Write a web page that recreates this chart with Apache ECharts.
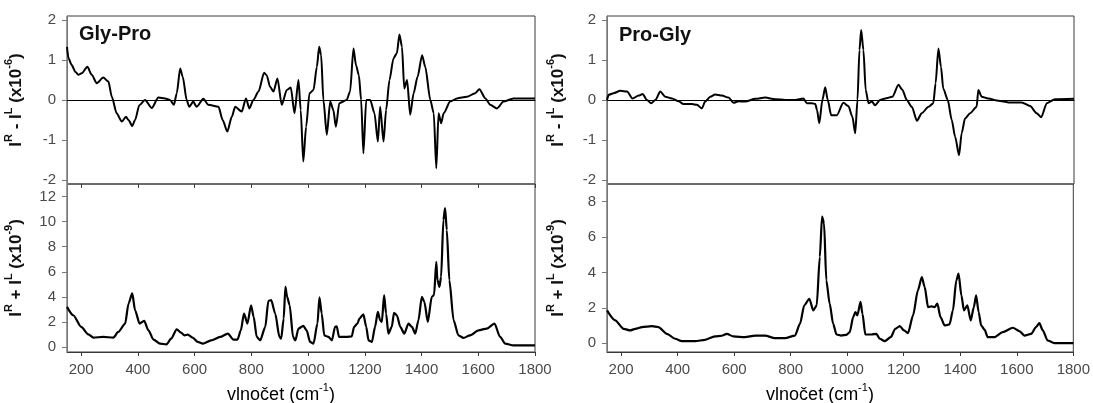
<!DOCTYPE html>
<html>
<head>
<meta charset="utf-8">
<script src="https://cdn.jsdelivr.net/npm/echarts@6/dist/echarts.min.js"></script>
<style>
  html, body { margin: 0; padding: 0; background: #fff; }
  #chart { width: 1093px; height: 403px; }
</style>
</head>
<body>
<div id="chart"></div>
<script>
// osa x (vlnočet, cm-1)
const xTicks = [200, 400, 600, 800, 1000, 1200, 1400, 1600, 1800]
const roaTicks = [-2, -1, 0, 1, 2]
const glyProRamanTicks = [0, 2, 4, 6, 8, 10, 12]
const proGlyRamanTicks = [0, 2, 4, 6, 8]

// Gly-Pro: I(R) - I(L)
const glyProRoa = [
  [150, 1.33], [155, 1.05], [166, 0.88], [180, 0.7], [190, 0.63], [202, 0.67], [222, 0.83], [237, 0.63],
  [255, 0.42], [278, 0.56], [296, 0.46], [308, 0.08], [325, -0.33], [343, -0.54], [358, -0.42], [367, -0.5],
  [380, -0.65], [390, -0.5], [405, -0.13], [425, 0], [449, -0.2], [472, 0.06], [496, 0.04], [513, 0],
  [527, -0.12], [537, 0.17], [549, 0.79], [558, 0.58], [572, 0], [581, -0.17], [595, -0.04], [607, -0.17],
  [631, 0.03], [648, -0.12], [684, -0.17], [699, -0.5], [715, -0.79], [731, -0.42], [743, -0.17], [766, -0.29],
  [781, 0.04], [793, -0.21], [807, 0], [825, 0.21], [845, 0.68], [854, 0.62], [866, 0.33], [878, 0.21],
  [892, 0.54], [907, -0.12], [925, 0.25], [939, 0.31], [952, -0.33], [966, 0.5], [974, -0.25], [983, -1.54],
  [993, -0.67], [1005, 0.17], [1019, 0.25], [1031, 0.83], [1039, 1.33], [1046, 1.12], [1054, 0], [1066, -0.87],
  [1078, -0.04], [1089, -0.25], [1098, -0.67], [1110, -0.08], [1136, 0], [1148, 0.21], [1160, 1.29], [1169, 0.87],
  [1179, 0.62], [1187, 0], [1195, -1.33], [1205, 0], [1219, 0], [1234, -0.33], [1246, -1.04], [1254, -0.17],
  [1266, -1.04], [1275, -0.25], [1287, 0.5], [1301, 1.04], [1313, 1.17], [1322, 1.64], [1331, 1.33], [1339, 0.29],
  [1349, 0.5], [1360, -0.37], [1372, 0.17], [1386, 0.58], [1402, 1.12], [1413, 0.83], [1431, 0], [1443, -0.33],
  [1452, -1.71], [1460, -0.33], [1469, -0.58], [1478, -0.33], [1501, -0.04], [1525, 0.04], [1560, 0.08], [1589, 0.17],
  [1604, 0.27], [1625, 0.04], [1642, -0.12], [1666, -0.21], [1689, -0.04], [1724, 0.04], [1800, 0.04]
]

// Gly-Pro: I(R) + I(L)
const glyProRaman = [
  [150, 3.2], [172, 2.53], [200, 1.6], [225, 1.01], [243, 0.75], [278, 0.8], [313, 0.75], [331, 1.2],
  [355, 1.87], [367, 3.47], [380, 4.27], [390, 2.93], [406, 1.87], [422, 2.08], [437, 1.33], [455, 0.59],
  [478, 0.27], [501, 0.21], [517, 0.67], [537, 1.41], [552, 1.15], [564, 0.93], [576, 0.99], [593, 0.75],
  [611, 0.4], [629, 0.27], [658, 0.53], [690, 0.8], [717, 1.07], [737, 0.59], [751, 0.59], [763, 1.33],
  [774, 2.67], [786, 1.87], [799, 3.33], [808, 2.4], [819, 0.8], [831, 0.53], [849, 1.6], [860, 3.68],
  [870, 3.73], [884, 2.67], [899, 0.8], [905, 0.67], [914, 2.27], [920, 4.8], [926, 4.0], [935, 3.33],
  [947, 0.8], [955, 0.53], [966, 1.47], [983, 1.68], [995, 1.33], [1007, 0.4], [1019, 0.27], [1033, 1.87],
  [1040, 3.95], [1048, 2.67], [1057, 0.93], [1072, 0.8], [1084, 0.53], [1095, 1.6], [1101, 1.65], [1109, 0.8],
  [1136, 0.8], [1154, 0.85], [1162, 1.6], [1174, 1.87], [1181, 2.27], [1195, 2.61], [1205, 1.6], [1213, 0.53],
  [1225, 0.4], [1236, 1.6], [1246, 2.8], [1254, 2.13], [1260, 2.0], [1268, 4.13], [1275, 2.67], [1283, 1.07],
  [1295, 1.6], [1303, 2.72], [1313, 2.53], [1325, 1.6], [1339, 1.07], [1354, 1.87], [1366, 1.6], [1378, 1.07],
  [1389, 2.13], [1401, 4.0], [1410, 3.6], [1422, 2.0], [1436, 4.0], [1444, 4.13], [1452, 6.8], [1456, 5.33],
  [1463, 4.8], [1469, 5.6], [1477, 10.13], [1483, 11.07], [1489, 9.33], [1498, 5.33], [1513, 2.13], [1530, 0.93],
  [1548, 0.72], [1571, 0.93], [1601, 1.33], [1630, 1.47], [1657, 1.87], [1677, 0.8], [1695, 0.27], [1724, 0.13],
  [1800, 0.13]
]

// Pro-Gly: I(R) - I(L)
const proGlyRoa = [
  [150, 0], [156, 0.13], [173, 0.17], [197, 0.23], [221, 0.21], [240, 0.04], [262, 0.11], [276, 0.15],
  [291, 0], [306, -0.08], [321, 0], [338, 0.21], [356, 0.08], [380, 0.04], [403, -0.03], [420, -0.1],
  [450, -0.1], [468, -0.12], [485, -0.21], [497, -0.04], [515, 0.08], [532, 0.14], [556, 0.11], [579, 0.06],
  [597, -0.07], [615, -0.03], [638, -0.04], [674, 0.03], [709, 0.06], [744, 0.02], [780, 0], [815, 0],
  [844, 0.04], [856, -0.08], [874, -0.08], [886, -0.1], [892, -0.25], [900, -0.58], [911, 0], [921, 0.32],
  [930, 0], [942, -0.38], [962, -0.38], [985, -0.07], [1003, -0.15], [1017, -0.42], [1027, -0.83], [1035, 0],
  [1042, 1.25], [1048, 1.75], [1056, 1.25], [1064, 0.25], [1074, -0.08], [1086, -0.04], [1097, -0.13], [1115, 0],
  [1133, 0.04], [1158, 0.08], [1180, 0.38], [1194, 0.25], [1209, 0], [1227, -0.17], [1245, -0.52], [1262, -0.33],
  [1286, -0.17], [1303, -0.08], [1311, 0.42], [1321, 1.29], [1330, 0.83], [1338, 0.29], [1354, 0], [1368, -0.5],
  [1380, -0.92], [1394, -1.38], [1403, -0.83], [1415, -0.46], [1433, -0.33], [1456, -0.17], [1462, 0.25], [1474, 0.08],
  [1497, 0.04], [1533, -0.02], [1568, -0.06], [1615, -0.06], [1645, -0.15], [1668, -0.33], [1684, -0.43], [1704, -0.08],
  [1733, 0.02], [1800, 0.03]
]

// Pro-Gly: I(R) + I(L)
const proGlyRaman = [
  [150, 1.85], [179, 1.29], [209, 0.81], [232, 0.72], [250, 0.81], [274, 0.91], [309, 0.96], [332, 0.91],
  [362, 0.53], [391, 0.25], [415, 0.11], [462, 0.11], [497, 0.19], [532, 0.38], [556, 0.42], [574, 0.53],
  [597, 0.38], [638, 0.34], [674, 0.43], [709, 0.43], [744, 0.28], [780, 0.28], [815, 0.43], [833, 1.1],
  [848, 2.14], [866, 2.51], [880, 1.85], [892, 2.14], [903, 4.88], [911, 7.15], [918, 6.77], [926, 3.55],
  [938, 2.23], [950, 1.1], [962, 0.49], [979, 0.43], [997, 0.47], [1009, 0.62], [1021, 1.47], [1029, 1.76],
  [1036, 1.57], [1047, 2.33], [1054, 1.66], [1064, 0.49], [1086, 0.49], [1103, 0.53], [1115, 0.25], [1133, 0.11],
  [1154, 0.34], [1170, 0.81], [1186, 0.96], [1201, 0.72], [1215, 0.57], [1233, 1.57], [1250, 2.99], [1264, 3.74],
  [1274, 3.18], [1286, 2.04], [1298, 2.08], [1309, 2.04], [1319, 2.23], [1330, 1.47], [1345, 1.0], [1362, 1.06],
  [1374, 1.85], [1386, 3.55], [1394, 3.93], [1404, 2.7], [1413, 1.85], [1425, 2.14], [1437, 1.29], [1448, 2.04],
  [1456, 2.7], [1465, 1.76], [1474, 1.0], [1486, 0.76], [1497, 0.34], [1521, 0.34], [1550, 0.62], [1586, 0.87],
  [1609, 0.68], [1627, 0.43], [1651, 0.53], [1668, 0.91], [1680, 1.13], [1692, 0.72], [1709, 0.15], [1733, 0],
  [1800, 0]
]

const FONT = "'Liberation Sans', Arial, sans-serif"
const frameColor = '#3a3a3a'
const axisColor = '#777'
const labelColor = '#4a4a4a'

// popisky os s horními indexy
const nameRich = {
  b: { fontSize: 17, fontWeight: 'bold', fontFamily: FONT, color: '#111', lineHeight: 22, verticalAlign: 'bottom' },
  s: { fontSize: 11, fontWeight: 'bold', fontFamily: FONT, color: '#111', lineHeight: 11, verticalAlign: 'top' }
}
const roaName = '{b|I}{s|R}{b| - I}{s|L}{b| (x10}{s|-6}{b|)}'
const ramanName = '{b|I}{s|R}{b| + I}{s|L}{b| (x10}{s|-9}{b|)}'

const plainNumber = v => String(v)

const grids = [
  { left: 67, top: 16, width: 468, height: 168 },
  { left: 67, top: 184, width: 468, height: 168 },
  { left: 607, top: 16, width: 467, height: 168 },
  { left: 607, top: 184, width: 467, height: 168 }
].map(g => ({ ...g, show: true, borderColor: frameColor, borderWidth: 1, backgroundColor: 'transparent' }))

const topX = gridIndex => ({
  type: 'value', gridIndex, min: 150, max: 1800,
  axisLine: { onZero: true, lineStyle: { color: '#000', width: 1 } },
  axisTick: { show: false }, axisLabel: { show: false }, splitLine: { show: false }
})

const bottomX = gridIndex => ({
  type: 'value', gridIndex, min: 150, max: 1800,
  axisLine: { onZero: false, lineStyle: { color: frameColor, width: 1 } },
  axisTick: { show: true, length: 4, customValues: xTicks, lineStyle: { color: frameColor } },
  axisLabel: { customValues: xTicks, formatter: plainNumber, margin: 10, fontSize: 15, fontFamily: FONT, color: labelColor },
  splitLine: { show: false }
})

const yAxisOf = (gridIndex, min, max, ticks, name, gap) => ({
  type: 'value', gridIndex, min, max,
  name, nameLocation: 'middle', nameRotate: 90, nameGap: gap,
  nameTextStyle: { rich: nameRich },
  axisLine: { onZero: false, lineStyle: { color: axisColor, width: 1 } },
  axisTick: { show: true, length: 5, customValues: ticks, lineStyle: { color: axisColor } },
  axisLabel: { customValues: ticks, formatter: plainNumber, margin: 11, fontSize: 15, fontFamily: FONT, color: labelColor },
  splitLine: { show: false }
})

const lineSeries = (idx, data, width) => ({
  type: 'line', xAxisIndex: idx, yAxisIndex: idx, data,
  showSymbol: false, symbol: 'none', smooth: 0.25, smoothMonotone: 'x',
  lineStyle: { color: '#000', width }
})

const xNameText = {
  text: '{t|vlnočet (cm}{s|-1}{t|)}', align: 'center', verticalAlign: 'middle',
  rich: {
    t: { fontSize: 18, fontFamily: FONT, color: '#111', lineHeight: 22, verticalAlign: 'bottom' },
    s: { fontSize: 11, fontFamily: FONT, color: '#111', lineHeight: 12, verticalAlign: 'top' }
  }
}

const chart = echarts.init(document.getElementById('chart'))

chart.setOption({
  animation: false,
  backgroundColor: '#fff',
  title: [
    { text: 'Gly-Pro', left: 74, top: 19, textStyle: { fontSize: 20, fontWeight: 'bold', fontFamily: FONT, color: '#111' } },
    { text: 'Pro-Gly', left: 614, top: 20, textStyle: { fontSize: 20, fontWeight: 'bold', fontFamily: FONT, color: '#111' } }
  ],
  graphic: [
    { type: 'text', x: 281, y: 393, style: xNameText },
    { type: 'text', x: 820, y: 393, style: xNameText }
  ],
  grid: grids,
  xAxis: [
    topX(0),
    bottomX(1),
    topX(2),
    bottomX(3),
    // vnitřní značky na horní hraně dolního levého grafu
    {
      type: 'value', gridIndex: 1, position: 'top', min: 150, max: 1800,
      axisLine: { show: false, onZero: false },
      axisTick: { show: true, inside: true, length: 4, customValues: xTicks, lineStyle: { color: frameColor } },
      axisLabel: { show: false }, splitLine: { show: false }
    }
  ],
  yAxis: [
    yAxisOf(0, -2.1, 2.1, roaTicks, roaName, 42),
    yAxisOf(1, -0.4, 13, glyProRamanTicks, ramanName, 42),
    yAxisOf(2, -2.1, 2.1, roaTicks, roaName, 40),
    yAxisOf(3, -0.5, 9, proGlyRamanTicks, ramanName, 40)
  ],
  series: [
    lineSeries(0, glyProRoa, 2),
    lineSeries(1, glyProRaman, 2.2),
    lineSeries(2, proGlyRoa, 2),
    lineSeries(3, proGlyRaman, 2.2)
  ]
})
</script>
</body>
</html>
